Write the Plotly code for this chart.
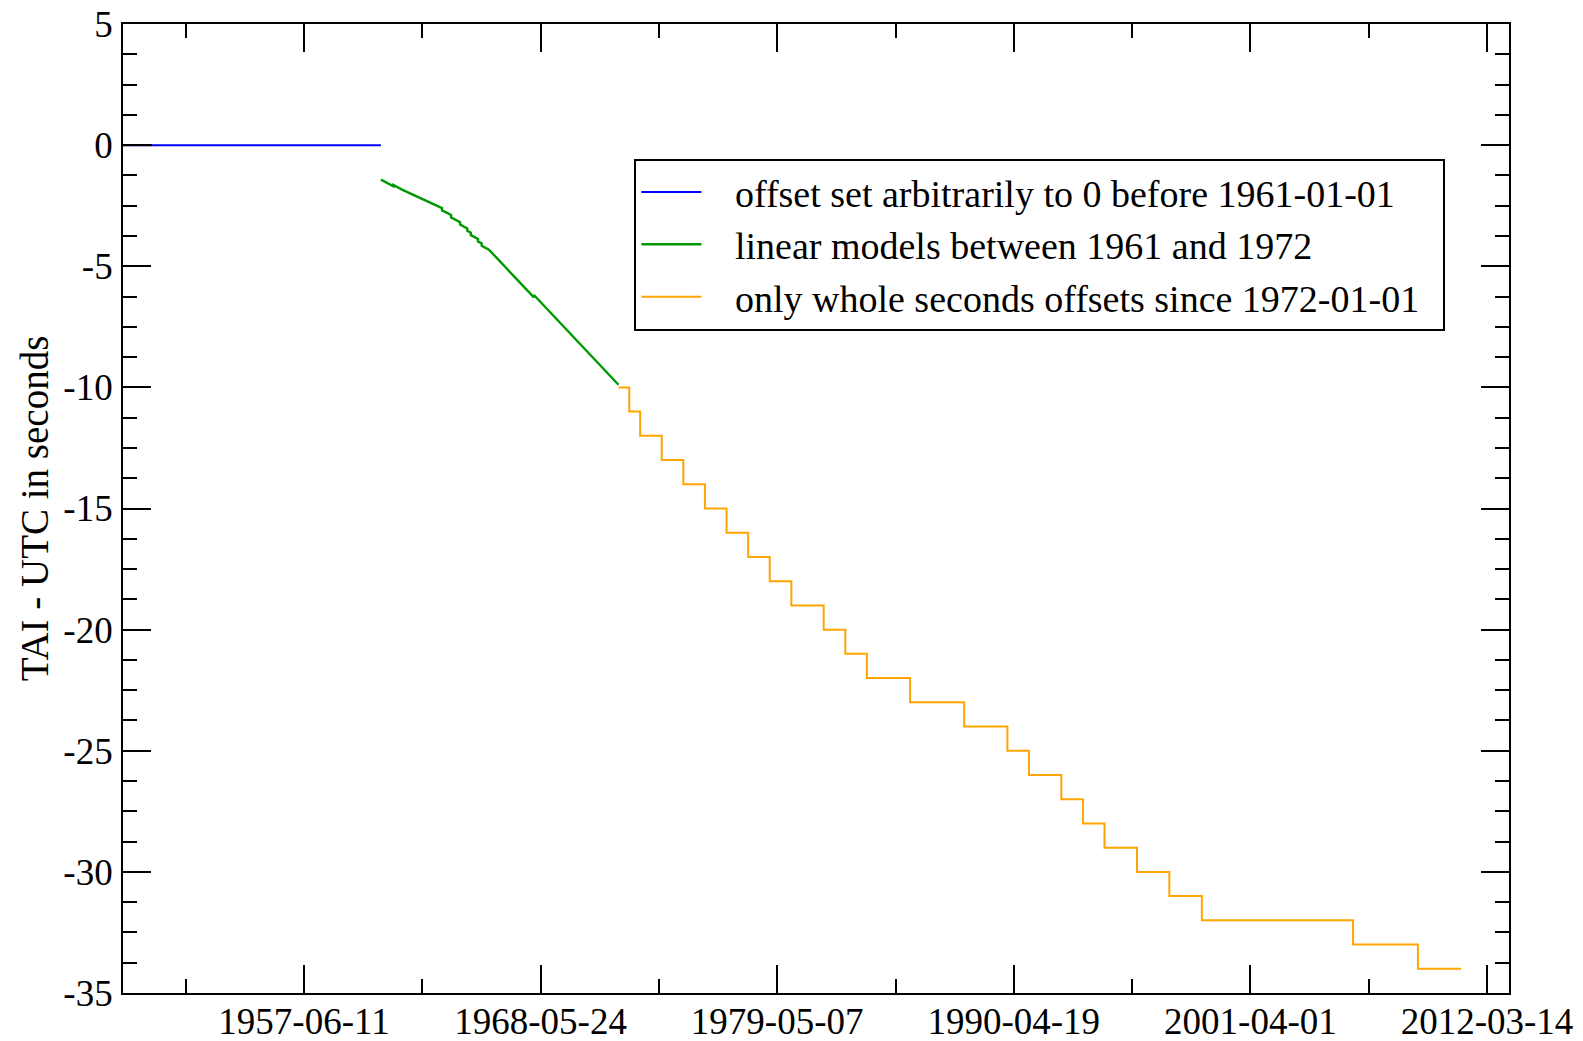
import plotly.graph_objects as go

# --- data -----------------------------------------------------------------
# Before 1961: offset fixed at zero
pre1961_dates = ["1949-01-24", "1961-01-01"]
pre1961_vals = [0.0, 0.0]

# short black reference segment at the start of the zero line
ref_dates = ["1949-01-24", "1950-05-28"]
ref_vals = [0.0, 0.0]

# 1961-1972: piecewise linear models (segment end points, seconds)
linear_dates = [
    "1961-01-01", "1961-08-01", "1961-08-01", "1962-01-01",
    "1963-11-01", "1963-11-01", "1964-01-01", "1964-04-01",
    "1964-04-01", "1964-09-01", "1964-09-01", "1965-01-01",
    "1965-01-01", "1965-03-01", "1965-03-01", "1965-07-01",
    "1965-07-01", "1965-09-01", "1965-09-01", "1966-01-01",
    "1968-02-01", "1968-02-01", "1972-01-01",
]
linear_vals = [
    -1.4228, -1.6976, -1.6476, -1.8459,
    -2.5973, -2.6973, -2.7658, -2.8837,
    -2.9837, -3.1820, -3.2820, -3.4401,
    -3.5401, -3.6166, -3.7166, -3.8747,
    -3.9747, -4.0551, -4.1551, -4.3132,
    -6.2857, -6.1857, -9.8922,
]

# Since 1972: whole-second offsets, each value holds from its date onward
step_dates = [
    "1972-01-01", "1972-07-01", "1973-01-01", "1974-01-01", "1975-01-01",
    "1976-01-01", "1977-01-01", "1978-01-01", "1979-01-01", "1980-01-01",
    "1981-07-01", "1982-07-01", "1983-07-01", "1985-07-01", "1988-01-01",
    "1990-01-01", "1991-01-01", "1992-07-01", "1993-07-01", "1994-07-01",
    "1996-01-01", "1997-07-01", "1999-01-01", "2006-01-01", "2009-01-01",
    "2011-01-01",
]
step_vals = [
    -10, -11, -12, -13, -14, -15, -16, -17, -18, -19,
    -20, -21, -22, -23, -24, -25, -26, -27, -28, -29,
    -30, -31, -32, -33, -34, -34,
]

# axis ticks
x_tick_dates = ["1957-06-11", "1968-05-24", "1979-05-07",
                "1990-04-19", "2001-04-01", "2012-03-14"]
x_tick_labels = ["1957-06-11", "1968-05-24", "1979-05-07",
                 "1990-04-19", "2001-04-01", "2012-03-14"]
y_tick_vals = [5, 0, -5, -10, -15, -20, -25, -30, -35]
y_tick_labels = ["5", "0", "-5", "-10", "-15", "-20", "-25", "-30", "-35"]

legend_names = [
    "offset set arbitrarily to 0 before 1961-01-01",
    "linear models between 1961 and 1972",
    "only whole seconds offsets since 1972-01-01",
]

# --- figure ---------------------------------------------------------------
FONT = "Liberation Serif, Times New Roman, serif"
DAY_MS = 86400000
NBSP = "\u00a0"


def legend_label(text):
    # pad the entry so the text sits clear of the line sample
    return NBSP * 3 + text + NBSP * 2


fig = go.Figure()
fig.add_trace(go.Scatter(x=pre1961_dates, y=pre1961_vals, mode="lines",
                         name=legend_label(legend_names[0]),
                         line=dict(color="#0000ff", width=2)))
fig.add_trace(go.Scatter(x=linear_dates, y=linear_vals, mode="lines",
                         name=legend_label(legend_names[1]),
                         line=dict(color="#009a00", width=2.4)))
fig.add_trace(go.Scatter(x=step_dates, y=step_vals, mode="lines",
                         name=legend_label(legend_names[2]), line_shape="hv",
                         line=dict(color="#ffa500", width=2)))
fig.add_trace(go.Scatter(x=ref_dates, y=ref_vals, mode="lines",
                         showlegend=False, hoverinfo="skip",
                         line=dict(color="#000000", width=2)))

axis_common = dict(
    showline=True, linecolor="black", linewidth=1.8, mirror="ticks",
    ticks="inside", ticklen=28, tickwidth=1.8, tickcolor="black",
    showgrid=False, zeroline=False,
    tickfont=dict(family=FONT, size=37, color="black"),
)

fig.update_xaxes(
    type="date", range=["1949-01-24", "2013-03-21"],
    tickmode="array", tickvals=x_tick_dates, ticktext=x_tick_labels,
    minor=dict(tick0="1957-06-11", dtick=2000 * DAY_MS, ticks="inside",
               ticklen=14, tickwidth=1.8, tickcolor="black", showgrid=False),
    ticklabelstandoff=-5,
    **axis_common,
)
fig.update_yaxes(
    range=[-35, 5],
    tickmode="array", tickvals=y_tick_vals, ticktext=y_tick_labels,
    minor=dict(tick0=0, dtick=1.25, ticks="inside",
               ticklen=14, tickwidth=1.8, tickcolor="black", showgrid=False),
    title=dict(text="TAI - UTC in seconds",
               font=dict(family=FONT, size=39, color="black"), standoff=3),
    ticklabelstandoff=1,
    **axis_common,
)

fig.update_layout(
    width=1583, height=1041,
    margin=dict(l=123, r=74, t=24, b=48, autoexpand=False),
    paper_bgcolor="white", plot_bgcolor="white",
    font=dict(family=FONT, color="black"),
    legend=dict(
        x=0.369, y=0.861, xanchor="left", yanchor="top",
        bgcolor="white", bordercolor="black", borderwidth=2,
        font=dict(family=FONT, size=38, color="black"),
        itemwidth=60,
    ),
)

fig.write_html("out.html")
